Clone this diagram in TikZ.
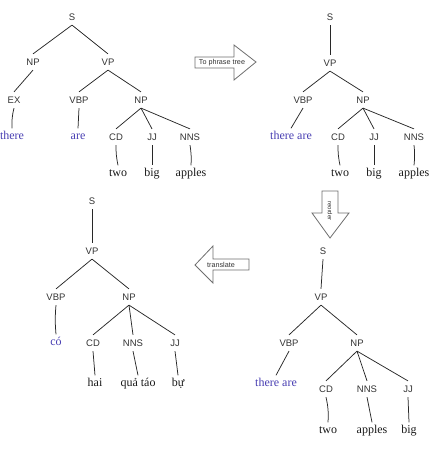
\documentclass[tikz,border=0pt]{standalone}
\usepackage{fontspec}
\setmainfont{Liberation Serif}
\newfontfamily\tagfont{Liberation Sans}
\definecolor{wordblue}{RGB}{72,62,178}
\definecolor{edgegray}{RGB}{40,40,40}
\definecolor{arrowgray}{RGB}{110,110,110}
\begin{document}
\begin{tikzpicture}[x=1pt,y=-1pt,
  tag/.style={font=\tagfont\fontsize{9.5}{10}\selectfont, text=black!80,
    text height=6.8pt, text depth=0pt, inner xsep=1pt, inner ysep=4.5pt},
  word/.style={font=\fontsize{12}{13}\selectfont, text=black!90,
    text height=7pt, text depth=2pt, inner xsep=1pt, inner ysep=4pt},
  eng/.style={word, text=wordblue},
  edge/.style={draw=edgegray, line width=0.75pt},
  bigarrow/.style={draw=arrowgray, fill=white, line width=0.8pt, line join=miter},
  arrowtext/.style={font=\tagfont\fontsize{7.2}{8}\selectfont, text=black!80, inner sep=0pt}]
\useasboundingbox (0,0) rectangle (429,449);

% ---- parse tree of the English sentence
\node[tag] (a-s) at (72,17) {S};
\node[tag] (a-np) at (33,62) {NP};
\node[tag] (a-vp) at (108,62) {VP};
\node[tag] (a-ex) at (14,100) {EX};
\node[tag] (a-vbp) at (79,100) {VBP};
\node[tag] (a-np2) at (141,100) {NP};
\node[eng] (a-there) at (12,137) {there};
\node[eng] (a-are) at (78,137) {are};
\node[tag] (a-cd) at (116,137) {CD};
\node[tag] (a-jj) at (152,137) {JJ};
\node[tag] (a-nns) at (190,137) {NNS};
\node[word] (a-two) at (118,174) {two};
\node[word] (a-big) at (152,174) {big};
\node[word] (a-apples) at (191,174) {apples};
\draw[edge] (a-s.south) -- (a-np.north);
\draw[edge] (a-s.south) -- (a-vp.north);
\draw[edge] (a-np.south) -- (a-ex.north);
\draw[edge] (a-vp.south) -- (a-vbp.north);
\draw[edge] (a-vp.south) -- (a-np2.north);
\draw[edge] (a-ex.south) to[bend right=8] (a-there.north);
\draw[edge] (a-vbp.south) -- (a-are.north);
\draw[edge] (a-np2.south) -- (a-cd.north);
\draw[edge] (a-np2.south) -- (a-jj.north);
\draw[edge] (a-np2.south) -- (a-nns.north);
\draw[edge] (a-cd.south) to[bend right=6] (a-two.north);
\draw[edge] (a-jj.south) -- (a-big.north);
\draw[edge] (a-nns.south) to[bend left=6] (a-apples.north);

% ---- arrow: to phrase tree
\draw[bigarrow] (195,57) -- (234,57) -- (234,45) -- (256,62) -- (234,80)
  -- (234,68) -- (195,68) -- cycle;
\node[arrowtext] (lbl-phrase) at (222,62.5) {To phrase tree};

% ---- phrase tree
\node[tag] (b-s) at (330,17) {S};
\node[tag] (b-vp) at (330,63) {VP};
\node[tag] (b-vbp) at (303,100) {VBP};
\node[tag] (b-np) at (363,100) {NP};
\node[eng] (b-there) at (291,137) {there are};
\node[tag] (b-cd) at (338,137) {CD};
\node[tag] (b-jj) at (374,137) {JJ};
\node[tag] (b-nns) at (414,137) {NNS};
\node[word] (b-two) at (340,174) {two};
\node[word] (b-big) at (374,174) {big};
\node[word] (b-apples) at (414,174) {apples};
\draw[edge] (b-s.south) -- (b-vp.north);
\draw[edge] (b-vp.south) -- (b-vbp.north);
\draw[edge] (b-vp.south) -- (b-np.north);
\draw[edge] (b-vbp.south) -- (b-there.north);
\draw[edge] (b-np.south) -- (b-cd.north);
\draw[edge] (b-np.south) -- (b-jj.north);
\draw[edge] (b-np.south) -- (b-nns.north);
\draw[edge] (b-cd.south) to[bend right=6] (b-two.north);
\draw[edge] (b-jj.south) -- (b-big.north);
\draw[edge] (b-nns.south) to[bend left=6] (b-apples.north);

% ---- arrow: reorder
\draw[bigarrow] (322,191) -- (338,191) -- (338,213) -- (349,213) -- (330,238)
  -- (312,213) -- (322,213) -- cycle;
\node[arrowtext, font=\tagfont\fontsize{6}{7}\selectfont, rotate=-90] (lbl-reorder) at (330,211) {reorder};

% ---- reordered tree
\node[tag] (c-s) at (323,251) {S};
\node[tag] (c-vp) at (321,297) {VP};
\node[tag] (c-vbp) at (289,343) {VBP};
\node[tag] (c-np) at (357,343) {NP};
\node[eng] (c-there) at (276,384) {there are};
\node[tag] (c-cd) at (326,389) {CD};
\node[tag] (c-nns) at (367,389) {NNS};
\node[tag] (c-jj) at (408,389) {JJ};
\node[word] (c-two) at (328,431) {two};
\node[word] (c-apples) at (372,431) {apples};
\node[word] (c-big) at (409,431) {big};
\draw[edge] (c-s.south) -- (c-vp.north);
\draw[edge] (c-vp.south) -- (c-vbp.north);
\draw[edge] (c-vp.south) -- (c-np.north);
\draw[edge] (c-vbp.south) -- (c-there.north);
\draw[edge] (c-np.south) -- (c-cd.north);
\draw[edge] (c-np.south) -- (c-nns.north);
\draw[edge] (c-np.south) -- (c-jj.north);
\draw[edge] (c-cd.south) to[bend left=8] (c-two.north);
\draw[edge] (c-nns.south) -- (c-apples.north);
\draw[edge] (c-jj.south) -- (c-big.north);

% ---- arrow: translate
\draw[bigarrow] (249,259) -- (213,259) -- (213,246) -- (195,265) -- (213,283)
  -- (213,270) -- (249,270) -- cycle;
\node[arrowtext] (lbl-translate) at (221,265) {translate};

% ---- Vietnamese tree
\node[tag] (d-s) at (92,201) {S};
\node[tag] (d-vp) at (92,251) {VP};
\node[tag] (d-vbp) at (56,297) {VBP};
\node[tag] (d-np) at (129,297) {NP};
\node[eng] (d-co) at (56,343) {có};
\node[tag] (d-cd) at (93,343) {CD};
\node[tag] (d-nns) at (133,343) {NNS};
\node[tag] (d-jj) at (175,343) {JJ};
\node[word] (d-hai) at (95,384) {hai};
\node[word] (d-qua) at (138,384) {quả táo};
\node[word] (d-bu) at (178,384) {bự};
\draw[edge] (d-s.south) -- (d-vp.north);
\draw[edge] (d-vp.south) -- (d-vbp.north);
\draw[edge] (d-vp.south) -- (d-np.north);
\draw[edge] (d-vbp.south) to[bend right=5] (d-co.north);
\draw[edge] (d-np.south) -- (d-cd.north);
\draw[edge] (d-np.south) -- (d-nns.north);
\draw[edge] (d-np.south) -- (d-jj.north);
\draw[edge] (d-cd.south) -- (d-hai.north);
\draw[edge] (d-nns.south) -- (d-qua.north);
\draw[edge] (d-jj.south) -- (d-bu.north);
\end{tikzpicture}
\end{document}
